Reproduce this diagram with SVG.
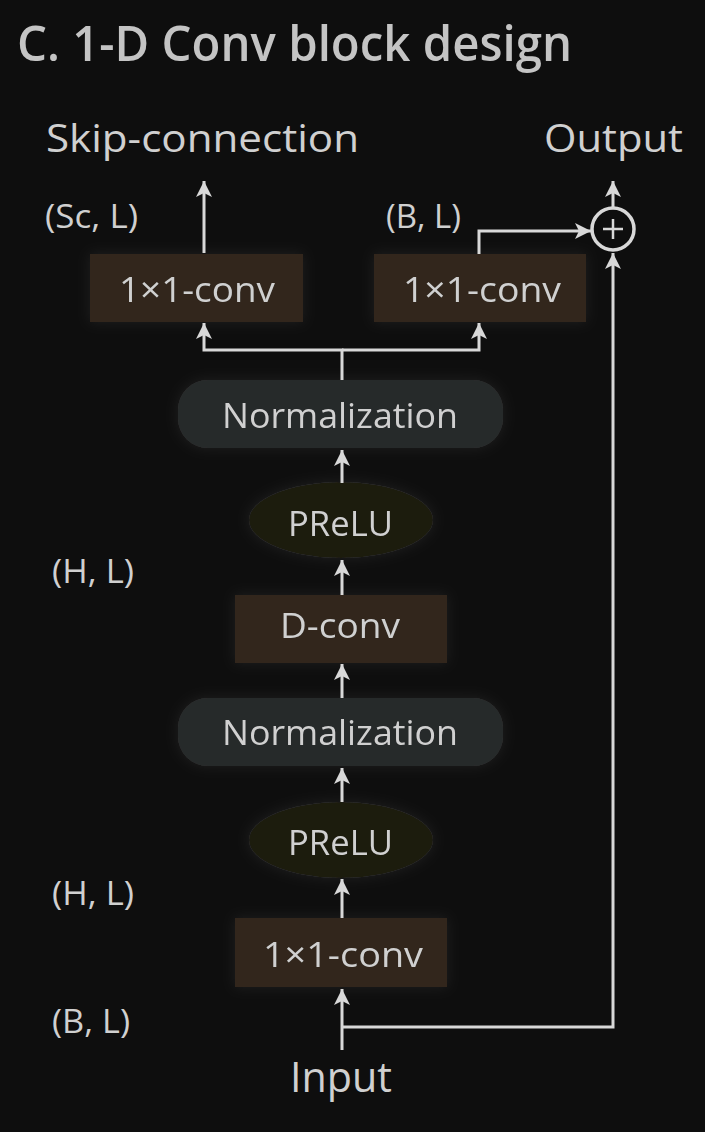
<svg xmlns="http://www.w3.org/2000/svg" width="705" height="1132" viewBox="0 0 705 1132">
<defs>
<style>
text{font-family:"Open Sans","Liberation Sans",sans-serif;fill:#d0d0d0}
.lbl{font-size:39px}
.dim{font-size:32px}
.nt{font-size:35px;text-anchor:middle}
.conv{fill:#30271e}
.norm{fill:#272a2b}
.act{fill:#1d1c11}
.ln{fill:none;stroke:#d8d8d8;stroke-width:3}
</style>
<marker id="ah" viewBox="0 0 16 16" refX="16" refY="8" markerWidth="16" markerHeight="16" markerUnits="userSpaceOnUse" orient="auto">
<path d="M0,0 L16,8 L0,16 L4,8 Z" fill="#d8d8d8"/>
</marker>
<filter id="glow" x="-20%" y="-40%" width="140%" height="180%">
<feGaussianBlur in="SourceAlpha" stdDeviation="7" result="b"/>
<feFlood flood-color="#ffffff" flood-opacity="0.07"/>
<feComposite in2="b" operator="in" result="g"/>
<feMerge><feMergeNode in="g"/><feMergeNode in="SourceGraphic"/></feMerge>
</filter>
</defs>
<rect width="705" height="1132" fill="#0e0e0e"/>
<text x="17" y="61" style="font-size:49px;font-weight:600;fill:#c4c4c4" textLength="555" lengthAdjust="spacingAndGlyphs">C. 1-D Conv block design</text>
<text class="lbl" x="46" y="152" textLength="313" lengthAdjust="spacingAndGlyphs">Skip-connection</text>
<text class="lbl" x="544" y="152" textLength="139" lengthAdjust="spacingAndGlyphs">Output</text>
<text class="dim" x="45" y="228" textLength="93" lengthAdjust="spacingAndGlyphs">(Sc, L)</text>
<text class="dim" x="386" y="228" textLength="75" lengthAdjust="spacingAndGlyphs">(B, L)</text>
<text class="dim" x="52" y="583" textLength="82" lengthAdjust="spacingAndGlyphs">(H, L)</text>
<text class="dim" x="52" y="905" textLength="82" lengthAdjust="spacingAndGlyphs">(H, L)</text>
<text class="dim" x="52" y="1033" textLength="78" lengthAdjust="spacingAndGlyphs">(B, L)</text>
<text x="341" y="1092" style="font-size:42px;text-anchor:middle" textLength="102" lengthAdjust="spacingAndGlyphs">Input</text>

<g id="skip-conv" filter="url(#glow)">
<rect class="conv" x="90" y="254" width="213" height="68"/>
<text class="nt" x="197" y="302" textLength="156" lengthAdjust="spacingAndGlyphs">1×1-conv</text>
</g>
<g id="res-conv" filter="url(#glow)">
<rect class="conv" x="374" y="254" width="212" height="68"/>
<text class="nt" x="482" y="302" textLength="158" lengthAdjust="spacingAndGlyphs">1×1-conv</text>
</g>
<g id="sum">
<circle cx="613" cy="229" r="21" fill="none" stroke="#d8d8d8" stroke-width="3.5"/>
<path d="M603,229 H623 M613,219 V239" stroke="#d8d8d8" stroke-width="2.5"/>
</g>
<g id="norm1" filter="url(#glow)">
<rect class="norm" x="178" y="380" width="325" height="68" rx="30"/>
<text class="nt" x="340" y="428" textLength="236" lengthAdjust="spacingAndGlyphs">Normalization</text>
</g>
<g id="prelu1" filter="url(#glow)">
<ellipse class="act" cx="341" cy="520" rx="92" ry="38"/>
<text class="nt" x="340.5" y="536" textLength="105" lengthAdjust="spacingAndGlyphs">PReLU</text>
</g>
<g id="dconv" filter="url(#glow)">
<rect class="conv" x="235" y="595" width="212" height="68"/>
<text class="nt" x="340" y="638" textLength="120" lengthAdjust="spacingAndGlyphs">D-conv</text>
</g>
<g id="norm2" filter="url(#glow)">
<rect class="norm" x="178" y="698" width="325" height="68" rx="30"/>
<text class="nt" x="340" y="745" textLength="236" lengthAdjust="spacingAndGlyphs">Normalization</text>
</g>
<g id="prelu2" filter="url(#glow)">
<ellipse class="act" cx="341" cy="840" rx="92" ry="38"/>
<text class="nt" x="340.5" y="855" textLength="105" lengthAdjust="spacingAndGlyphs">PReLU</text>
</g>
<g id="in-conv" filter="url(#glow)">
<rect class="conv" x="235" y="918" width="212" height="69"/>
<text class="nt" x="343" y="967" textLength="160" lengthAdjust="spacingAndGlyphs">1×1-conv</text>
</g>

<g id="connectors">
<path class="ln" d="M204,253 V181" marker-end="url(#ah)"/>
<path class="ln" d="M479,254 V231 H591" marker-end="url(#ah)"/>
<path class="ln" d="M613,207 V181" marker-end="url(#ah)"/>
<path class="ln" d="M342,380 V350 H204 V323" marker-end="url(#ah)"/>
<path class="ln" d="M342,350 H479 V323" marker-end="url(#ah)"/>
<path class="ln" d="M342,483 V450" marker-end="url(#ah)"/>
<path class="ln" d="M342,595 V560" marker-end="url(#ah)"/>
<path class="ln" d="M342,698 V664" marker-end="url(#ah)"/>
<path class="ln" d="M342,802 V768" marker-end="url(#ah)"/>
<path class="ln" d="M342,918 V879" marker-end="url(#ah)"/>
<path class="ln" d="M342,1050 V989" marker-end="url(#ah)"/>
<path class="ln" d="M342,1027 H613 V253" marker-end="url(#ah)"/>
</g>
</svg>
